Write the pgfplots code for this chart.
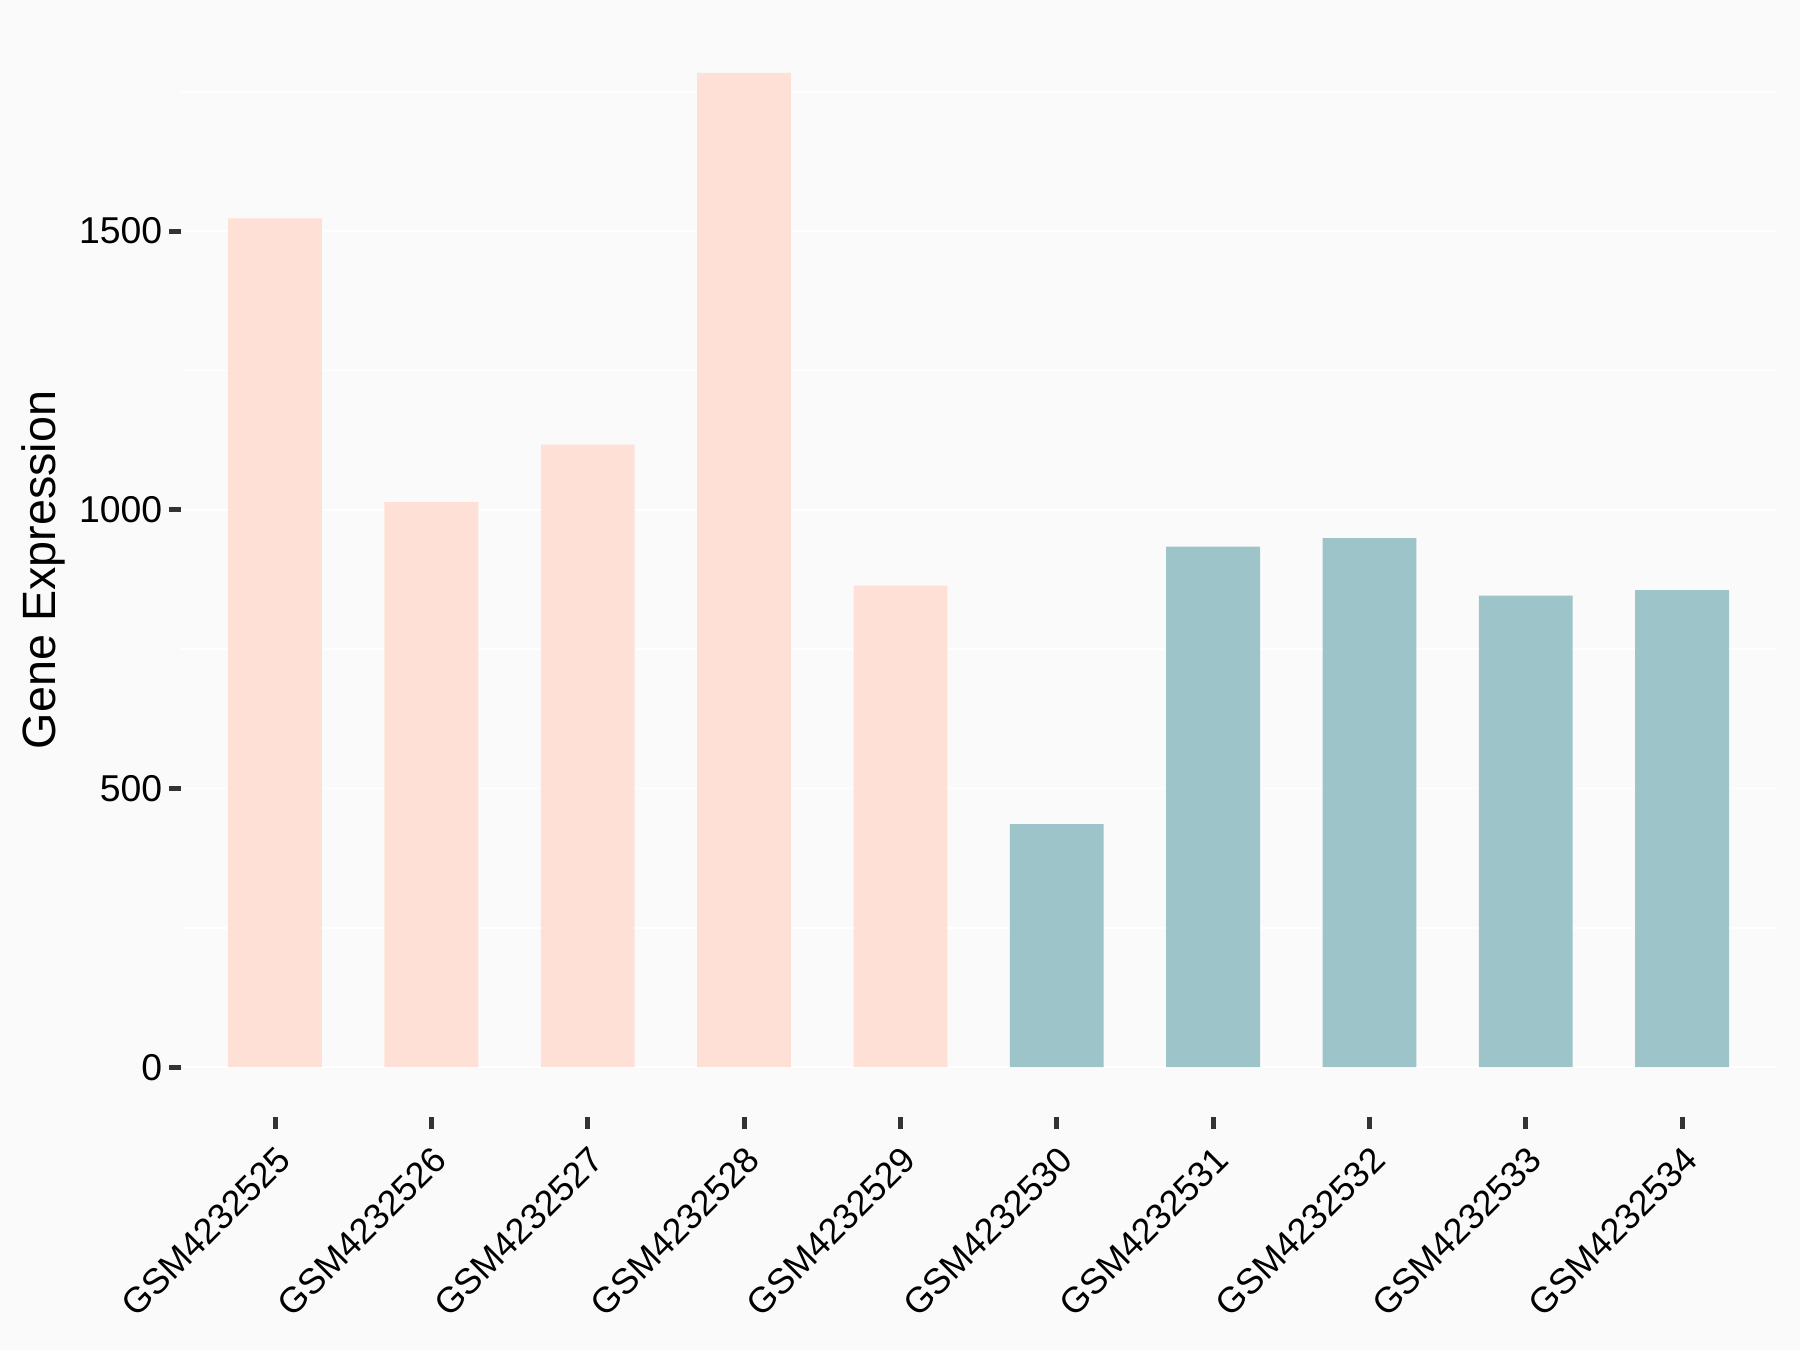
\documentclass[border=0pt]{standalone}
\usepackage{fontspec}
\setmainfont{Liberation Sans}
\usepackage{pgfplots}
\pgfplotsset{compat=1.18}
\definecolor{bg}{HTML}{FAFAFA}
\definecolor{pinkbar}{HTML}{FFE0D6}
\definecolor{tealbar}{HTML}{9DC4C8}
\definecolor{tickc}{HTML}{333333}
\begin{document}
\begin{tikzpicture}
\useasboundingbox[fill=bg] (-58bp,-74.6bp) rectangle (518bp,357.4bp);
\begin{axis}[
  at={(0,0)}, anchor=south west,
  scale only axis, width=510.3bp, height=350bp,
  xmin=-0.6, xmax=9.6, ymin=-89.2, ymax=1873.2,
  axis line style={draw=none},
  axis background/.style={fill=bg},
  ytick={0,500,1000,1500}, minor ytick={250,750,1250,1750},
  ymajorgrids, yminorgrids,
  major grid style={white, line width=0.6bp},
  minor grid style={white, line width=0.6bp},
  xtick={0,...,9},
  xticklabels={GSM4232525,GSM4232526,GSM4232527,GSM4232528,GSM4232529,GSM4232530,GSM4232531,GSM4232532,GSM4232533,GSM4232534},
  xtick pos=lower, ytick pos=lower,
  tick align=outside, major tick length=3.8bp, minor tick length=0pt,
  major tick style={tickc, line width=1.6bp},
  /pgf/number format/assume math mode=true,
  /pgf/number format/1000 sep={},
  yticklabel style={font=\fontsize{12}{14}\selectfont, text=black, anchor=east, xshift=1.2bp},
  xticklabel style={font=\fontsize{11.5}{14}\selectfont, text=black, rotate=45, anchor=north east},
  ylabel={Gene Expression},
  ylabel style={font=\fontsize{15}{18}\selectfont, at={(axis description cs:0,0.5)}, anchor=center, yshift=44bp},
]
\addplot[ybar, bar width=0.6, bar shift=0pt, fill=pinkbar, draw=none] coordinates {(0,1523) (1,1014) (2,1117) (3,1784) (4,864)};
\addplot[ybar, bar width=0.6, bar shift=0pt, fill=tealbar, draw=none] coordinates {(5,436) (6,934) (7,949) (8,846) (9,856)};
\end{axis}
\end{tikzpicture}
\end{document}
